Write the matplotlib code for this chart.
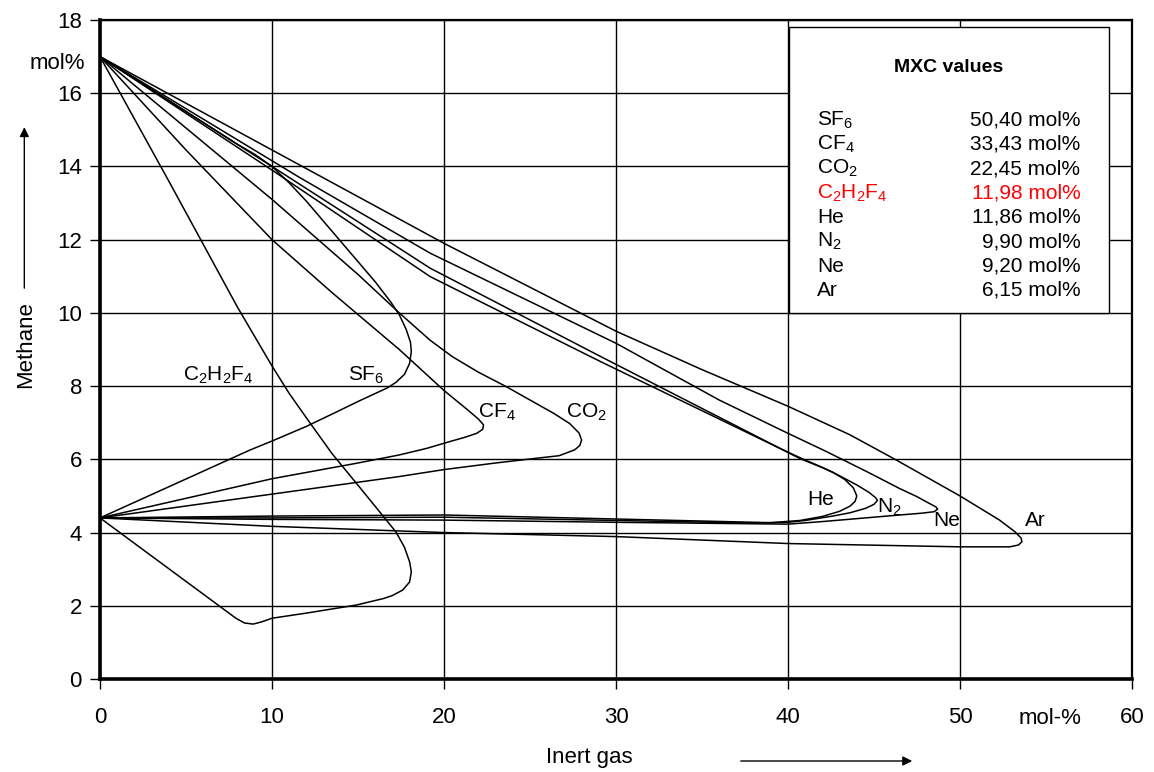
import matplotlib
matplotlib.use("Agg")
import matplotlib.pyplot as plt
from matplotlib.patches import Rectangle

plt.rcParams['font.family'] = ['Liberation Sans', 'DejaVu Sans']
plt.rcParams['mathtext.default'] = 'regular'

# ---------------- data ----------------
sf6_x = [0, 5, 8, 9, 10, 11, 12, 13, 14, 15, 16, 16.9, 17.4, 17.8, 18.05, 18.1, 18.0, 17.7, 17.2, 16.7, 15.0, 13.6, 12.0, 10.0, 8.7, 0]
sf6_y = [17, 15.5, 14.6, 14.33, 14.0, 13.55, 13.05, 12.5, 11.95, 11.4, 10.85, 10.3, 9.95, 9.55, 9.2, 8.95, 8.62, 8.32, 8.1, 7.95, 7.58, 7.26, 6.9, 6.5, 6.25, 4.4]

cf4_x = [0, 5, 10, 13.5, 17.4, 20.0, 21.3, 22.0, 22.3, 22.25, 21.9, 21.2, 20.3, 19.0, 17.4, 15.0, 10, 0]
cf4_y = [17, 14.45, 12.0, 10.55, 9.0, 7.88, 7.38, 7.1, 6.94, 6.82, 6.71, 6.6, 6.48, 6.3, 6.12, 5.9, 5.47, 4.4]

co2_x = [0, 5, 10, 15, 17.4, 19.2, 20.5, 22.0, 23.6, 25.0, 26.4, 27.3, 27.85, 28.0, 27.9, 27.6, 26.7, 25.2, 23.0, 20.0, 17.4, 10, 0]
co2_y = [17, 15.05, 13.1, 11.05, 10.0, 9.25, 8.8, 8.38, 7.99, 7.62, 7.25, 6.98, 6.72, 6.53, 6.38, 6.26, 6.1, 6.02, 5.9, 5.72, 5.53, 5.05, 4.4]

c2h2f4_x = [0, 4, 8, 9.5, 10, 11, 12.2, 13.5, 14.9, 16.2, 17.2, 17.7, 18.0, 18.1, 18.0, 17.6, 17.0, 16.5, 14.9, 12.0, 10.0, 9.4, 8.9, 8.4, 7.9, 0]
c2h2f4_y = [17, 13.6, 10.15, 8.95, 8.55, 7.8, 7.0, 6.15, 5.35, 4.6, 4.02, 3.6, 3.2, 2.93, 2.65, 2.43, 2.28, 2.2, 2.02, 1.8, 1.66, 1.56, 1.5, 1.53, 1.66, 4.4]

he_x = [0, 10, 19.2, 29.1, 39.7, 40.7, 41.7, 42.6, 43.3, 43.8, 44.0, 43.9, 43.6, 43.0, 42.0, 40.7, 39.0, 30, 20, 10, 0]
he_y = [17, 14.0, 11.22, 8.81, 6.26, 6.02, 5.83, 5.65, 5.45, 5.22, 5.0, 4.85, 4.72, 4.58, 4.44, 4.33, 4.27, 4.37, 4.48, 4.45, 4.4]

n2_x = [0, 10, 19.2, 29.1, 39.7, 41.0, 42.0, 43.0, 44.0, 44.7, 45.1, 45.2, 45.0, 44.5, 43.6, 42.6, 41.0, 40.0, 38.0, 30, 20, 10, 0]
n2_y = [17, 13.9, 10.99, 8.67, 6.26, 5.98, 5.78, 5.55, 5.3, 5.1, 4.95, 4.88, 4.77, 4.66, 4.54, 4.45, 4.33, 4.28, 4.26, 4.33, 4.42, 4.4, 4.4]

ne_x = [0, 11.6, 19.2, 30.0, 36.0, 40.0, 42.2, 44.6, 46.5, 47.5, 48.2, 48.6, 48.7, 48.5, 47.8, 46.5, 44.0, 42.0, 40.0, 30, 20, 10, 0]
ne_y = [17, 13.7, 11.63, 9.17, 7.62, 6.71, 6.22, 5.66, 5.2, 4.98, 4.8, 4.7, 4.64, 4.57, 4.53, 4.48, 4.38, 4.3, 4.23, 4.28, 4.34, 4.36, 4.4]

ar_x = [0, 10, 20, 30, 35, 40, 43.6, 46.3, 50.0, 52.3, 53.2, 53.55, 53.6, 53.4, 52.9, 50, 40, 30, 20, 10, 0]
ar_y = [17, 14.45, 11.9, 9.5, 8.45, 7.45, 6.67, 5.98, 5.0, 4.34, 4.02, 3.85, 3.75, 3.66, 3.61, 3.61, 3.7, 3.89, 4.0, 4.17, 4.4]

curve_labels = [r'C$_2$H$_2$F$_4$', r'SF$_6$', r'CF$_4$', r'CO$_2$', 'He', r'N$_2$', 'Ne', 'Ar']
label_x = [6.86, 15.5, 23.1, 28.3, 41.9, 45.9, 49.2, 54.4]
label_y = [8.3, 8.3, 7.27, 7.27, 4.9, 4.7, 4.34, 4.34]

mxc_names = [r'SF$_6$', r'CF$_4$', r'CO$_2$', r'C$_2$H$_2$F$_4$', 'He', r'N$_2$', 'Ne', 'Ar']
mxc_values = ['50,40 mol%', '33,43 mol%', '22,45 mol%', '11,98 mol%', '11,86 mol%', '9,90 mol%', '9,20 mol%', '6,15 mol%']
mxc_colors = ['black', 'black', 'black', 'red', 'black', 'black', 'black', 'black']

x_ticks = [0, 10, 20, 30, 40, 50, 60]
y_ticks = [0, 2, 4, 6, 8, 10, 12, 14, 16, 18]

# ---------------- figure ----------------
W, H = 1154, 772
fig = plt.figure(figsize=(W / 100, H / 100), dpi=100)
L, R, B, T = 100, 1132, 679, 20
ax = fig.add_axes([L / W, (H - B) / H, (R - L) / W, (B - T) / H])
ax.set_xlim(0, 60)
ax.set_ylim(0, 18)
ax.set_xticks(x_ticks)
ax.set_yticks(y_ticks)
ax.tick_params(labelsize=16, length=7, width=1, direction='out')
ax.tick_params(axis='y', pad=6)
ax.tick_params(axis='x', pad=13)
ax.grid(True, color='black', lw=1.0)
ax.set_axisbelow(True)
for s in ['left', 'bottom']:
    ax.spines[s].set_linewidth(2.6)
for s in ['top', 'right']:
    ax.spines[s].set_linewidth(1.6)

for cx, cy in [(c2h2f4_x, c2h2f4_y), (sf6_x, sf6_y), (cf4_x, cf4_y), (co2_x, co2_y),
               (he_x, he_y), (n2_x, n2_y), (ne_x, ne_y), (ar_x, ar_y)]:
    ax.plot(cx, cy, color='black', lw=1.1, solid_joinstyle='round', zorder=3)

for t, x, y in zip(curve_labels, label_x, label_y):
    ax.text(x, y, t, fontsize=15, ha='center', va='center', zorder=4)

# MXC box
ax.add_patch(Rectangle((40.06, 10.0), 18.6, 7.81, facecolor='white', edgecolor='black',
                       lw=1.0, zorder=5))
ax.text(49.36, 16.69, 'MXC values', fontsize=14, fontweight='bold', ha='center', va='center', zorder=6)
row_y0, row_dy = 15.32, 0.665
for i, (n, v, c) in enumerate(zip(mxc_names, mxc_values, mxc_colors)):
    y = row_y0 - i * row_dy - 0.2
    ax.text(41.7, y, n, fontsize=15, color=c, ha='left', va='baseline', zorder=6)
    ax.text(57.0, y, v, fontsize=15, color=c, ha='right', va='baseline', zorder=6)

# axis annotations
ax.text(-2.5, 16.8, 'mol%', fontsize=16, ha='center', va='center', clip_on=False)
ax.text(-4.3, 9.13, 'Methane', fontsize=16, rotation=90, ha='center', va='center', clip_on=False)
ax.annotate('', xy=(-4.4, 15.15), xytext=(-4.4, 10.6), xycoords='data',
            arrowprops=dict(arrowstyle='-|>', color='black', lw=1.0, mutation_scale=14),
            annotation_clip=False)
fig.text(589 / W, 1 - 758 / H, 'Inert gas', fontsize=16, ha='center', va='center')
ax.annotate('', xy=(915 / W, 1 - 761 / H), xytext=(738 / W, 1 - 761 / H),
            xycoords='figure fraction', textcoords='figure fraction',
            arrowprops=dict(arrowstyle='-|>', color='black', lw=1.0, mutation_scale=14))
fig.text(1050 / W, 1 - 718 / H, 'mol-%', fontsize=16, ha='center', va='center')

fig.savefig('out.png', dpi=100)
